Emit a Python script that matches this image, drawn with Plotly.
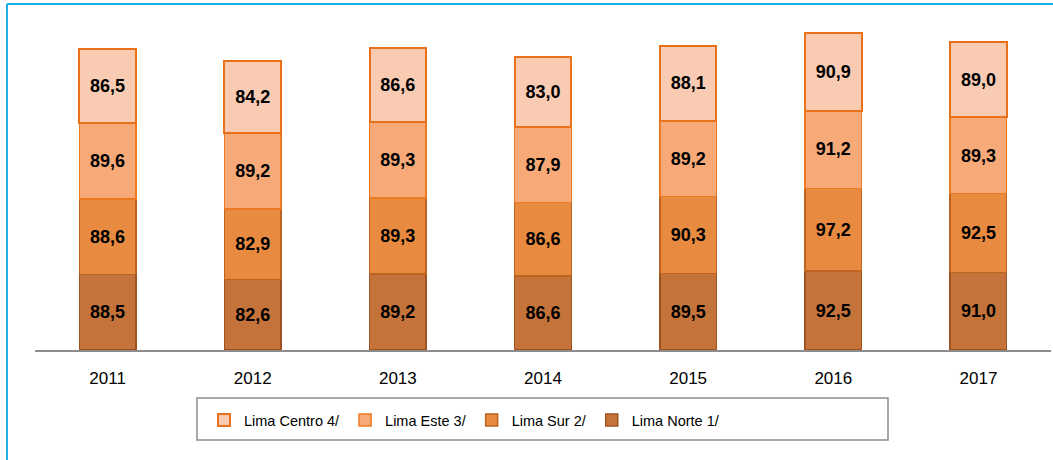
import plotly.graph_objects as go

years = ["2011", "2012", "2013", "2014", "2015", "2016", "2017"]
lima_norte = [88.5, 82.6, 89.2, 86.6, 89.5, 92.5, 91.0]
lima_sur = [88.6, 82.9, 89.3, 86.6, 90.3, 97.2, 92.5]
lima_este = [89.6, 89.2, 89.3, 87.9, 89.2, 91.2, 89.3]
lima_centro = [86.5, 84.2, 86.6, 83.0, 88.1, 90.9, 89.0]

series = [
    ("Lima Norte 1/", lima_norte, "#C4743A", "#9E5320", 1.5),
    ("Lima Sur 2/", lima_sur, "#E88B41", "#BC6420", 1.5),
    ("Lima Este 3/", lima_este, "#F7AA78", "#EC7A22", 1.5),
    ("Lima Centro 4/", lima_centro, "#F9CBB2", "#E8711A", 2),
]

FONT = "Liberation Sans, Arial, sans-serif"

fig = go.Figure()
for name, vals, fill, line, lw in series:
    fig.add_trace(go.Bar(
        x=years, y=vals, name=name,
        marker=dict(color=fill, line=dict(color=line, width=lw)),
        text=[f"{v:.1f}".replace(".", ",") for v in vals],
        textposition="inside", insidetextanchor="middle", textangle=0,
        constraintext="none",
        textfont=dict(family=FONT, size=18, color="#000000", weight="bold"),
        hoverinfo="skip",
    ))

W, H = 1053, 460
L, R, T, B = 35, 2, 9, 110
pw = W - L - R
ph = H - T - B


def px_x(p):
    return (p - L) / pw


def px_y(p):
    return (H - B - p) / ph


fig.update_layout(
    width=W, height=H,
    barmode="stack", bargap=0.61,
    margin=dict(l=L, r=R, t=T, b=B),
    plot_bgcolor="white", paper_bgcolor="white",
    font=dict(family=FONT, size=17, color="#000000"),
    showlegend=True,
    legend=dict(orientation="h", traceorder="reversed",
                x=px_x(204), xanchor="left", y=px_y(420), yanchor="middle",
                bgcolor="rgba(0,0,0,0)", font=dict(family=FONT, size=14.5),
                itemclick=False),
    xaxis=dict(showline=True, linecolor="#8C8C8C", linewidth=2,
               ticks="", showgrid=False, tickfont=dict(size=17),
               ticklabelstandoff=12),
    yaxis=dict(range=[0, 400], visible=False, showgrid=False),
    shapes=[
        dict(type="rect", xref="paper", yref="paper",
             x0=px_x(197), x1=px_x(888), y0=px_y(398), y1=px_y(440),
             line=dict(color="#8C8C8C", width=1.5), fillcolor="rgba(0,0,0,0)"),
        dict(type="line", xref="paper", yref="paper",
             x0=px_x(7), x1=px_x(7), y0=px_y(4), y1=px_y(470),
             line=dict(color="#1EB0E8", width=2)),
        dict(type="line", xref="paper", yref="paper",
             x0=px_x(7), x1=px_x(1070), y0=px_y(4), y1=px_y(4),
             line=dict(color="#1EB0E8", width=2)),
    ],
)

fig.write_html("out.html", config={"displayModeBar": False},
               post_script="document.body.style.margin='0';")
